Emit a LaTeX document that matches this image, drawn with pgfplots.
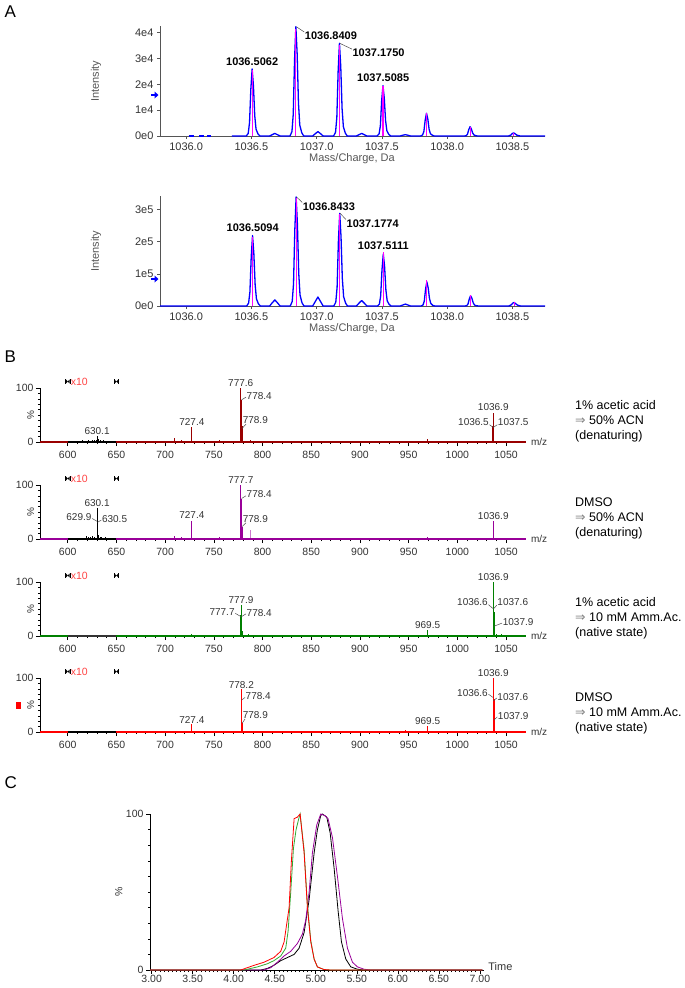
\documentclass[border=0pt]{standalone}
\usepackage{pgfplots}
\pgfplotsset{compat=1.18}
\usepackage{fontspec}
\setmainfont{Liberation Sans}
\newfontfamily\dejavu{DejaVu Sans}
\definecolor{txt}{HTML}{333333}
\definecolor{agray}{HTML}{555555}
\definecolor{bred}{HTML}{990000}
\definecolor{bpur}{HTML}{990099}
\definecolor{lpur}{HTML}{CC77CC}
\definecolor{bgrn}{HTML}{008000}
\definecolor{cgrn}{HTML}{33AA33}
\definecolor{xred}{HTML}{FF4444}
\definecolor{pblue}{HTML}{0000FF}
\definecolor{pmag}{HTML}{FF00FF}
\pgfplotsset{
  Astyle/.style={scale only axis, width=385pt, height=110pt,
    xmin=1035.8, xmax=1038.75, ymin=0,
    axis x line*=bottom, axis y line*=left,
    axis line style={agray,-,line width=0.7pt},
    tick style={agray,line width=0.6pt}, tick align=outside, major tick length=3pt,
    xtick={1036,1036.5,1037,1037.5,1038,1038.5},
    xticklabels={1036.0,1036.5,1037.0,1037.5,1038.0,1038.5},
    ticklabel style={font=\fontsize{11}{13}\selectfont, text=txt},
    clip=false},
  Bstyle/.style={scale only axis, width=486pt, height=54pt,
    xmin=571.5, xmax=1070.5, ymin=0, ymax=100,
    axis x line*=bottom, axis y line*=left,
    axis line style={black,-,line width=0.8pt},
    tick style={black,line width=0.6pt}, tick align=outside,
    major tick length=4pt, minor tick length=2pt,
    xtick={600,650,700,750,800,850,900,950,1000,1050},
    xticklabels={600,650,700,750,800,850,900,950,1000,1050},
    minor x tick num=4,
    ytick={0,100}, yticklabels={0,100}, minor ytick={10,20,30,40,50,60,70,80,90},
    ticklabel style={font=\fontsize{10.5}{12}\selectfont, text=txt},
    xticklabel style={yshift=-2pt}, yticklabel style={xshift=1pt},
    clip=false},
}
\tikzset{
  plab/.style={font=\bfseries\fontsize{11}{13}\selectfont, text=black, inner sep=0.5pt},
  blab/.style={font=\fontsize{10}{12}\selectfont, text=txt, inner sep=0.5pt},
  lead/.style={black!70, line width=0.5pt},
}
\newcommand{\xmark}[1]{%
  \fill[black] ([xshift=-2.6pt,yshift=-2.5pt]axis cs:#1,112) rectangle ([xshift=-1.9pt,yshift=2.5pt]axis cs:#1,112);
  \fill[black] ([xshift=1.9pt,yshift=-2.5pt]axis cs:#1,112) rectangle ([xshift=2.6pt,yshift=2.5pt]axis cs:#1,112);
  \fill[black] ([xshift=-1.9pt,yshift=2pt]axis cs:#1,112) -- ([xshift=1.9pt,yshift=-2pt]axis cs:#1,112) -- ([xshift=1.9pt,yshift=2pt]axis cs:#1,112) -- ([xshift=-1.9pt,yshift=-2pt]axis cs:#1,112) -- cycle;
}
\newcommand{\xten}{%
  \xmark{600}\xmark{650}
  \node[anchor=west, font=\fontsize{10.5}{12}\selectfont, text=xred, inner sep=0pt] at (axis cs:603,112) {x10};
  \node[rotate=90, font=\fontsize{10}{12}\selectfont, text=txt] at (axis cs:562,50) {\%};
  \node[anchor=west, font=\fontsize{10}{12}\selectfont, text=txt] at (axis cs:1072,0) {m/z};
}
\begin{document}
\begin{tikzpicture}
\useasboundingbox (0pt,0pt) rectangle (685pt,-988pt);
\node[anchor=west, font=\fontsize{17}{20}\selectfont] at (1pt,-12pt) {A};
\node[anchor=west, font=\fontsize{17}{20}\selectfont] at (1pt,-357pt) {B};
\node[anchor=west, font=\fontsize{17}{20}\selectfont] at (1pt,-783pt) {C};

% ---------------- Panel A top
\begin{axis}[Astyle, at={(160pt,-136pt)}, anchor=south west, ymax=4.25,
  ytick={0,1,2,3,4}, yticklabels={0e0,1e4,2e4,3e4,4e4}]
\addplot[pblue, line width=1.3pt] coordinates {(1036.02,0) (1036.06,0)};
\addplot[pblue, line width=1.3pt] coordinates {(1036.10,0) (1036.14,0)};
\addplot[pblue, line width=1.3pt] coordinates {(1036.16,0) (1036.19,0)};
\addplot[pblue, line width=1.3pt, line join=round] coordinates {
(1036.35,0) (1036.461,0) (1036.476,0.10) (1036.486,0.52) (1036.496,1.81) (1036.506,2.59) (1036.516,1.94) (1036.526,0.78) (1036.536,0.26) (1036.551,0.08) (1036.566,0)
(1036.64,0) (1036.66,0.05) (1036.68,0.10) (1036.70,0.05) (1036.72,0)
(1036.796,0) (1036.811,0.17) (1036.821,0.84) (1036.831,2.95) (1036.841,4.22) (1036.851,3.17) (1036.861,1.27) (1036.871,0.42) (1036.886,0.13) (1036.901,0)
(1036.97,0) (1036.99,0.09) (1037.01,0.17) (1037.03,0.09) (1037.05,0)
(1037.130,0) (1037.145,0.14) (1037.155,0.72) (1037.165,2.51) (1037.175,3.58) (1037.185,2.69) (1037.195,1.07) (1037.205,0.36) (1037.220,0.11) (1037.235,0)
(1037.305,0) (1037.325,0.05) (1037.345,0.10) (1037.365,0.05) (1037.385,0)
(1037.4635,0) (1037.4785,0.08) (1037.4885,0.39) (1037.4985,1.37) (1037.5085,1.95) (1037.5185,1.46) (1037.5285,0.59) (1037.5385,0.20) (1037.5535,0.06) (1037.5685,0)
(1037.64,0) (1037.66,0.03) (1037.68,0.05) (1037.70,0.03) (1037.72,0)
(1037.797,0) (1037.812,0.04) (1037.822,0.18) (1037.832,0.62) (1037.842,0.88) (1037.852,0.66) (1037.862,0.26) (1037.872,0.09) (1037.887,0.03) (1037.902,0)
(1038.131,0) (1038.146,0.01) (1038.156,0.07) (1038.166,0.25) (1038.176,0.36) (1038.186,0.27) (1038.196,0.11) (1038.206,0.04) (1038.221,0.01) (1038.236,0)
(1038.47,0) (1038.49,0.04) (1038.50,0.10) (1038.51,0.12) (1038.52,0.09) (1038.535,0.03) (1038.56,0) (1038.75,0)};
\addplot[pmag, line width=1.1pt, ycomb] coordinates {
(1036.506,2.55) (1036.841,4.15) (1037.175,3.52) (1037.5085,1.93) (1037.842,0.90) (1038.176,0.36) (1038.51,0.12)};
\node[plab, anchor=south] at (axis cs:1036.506,2.70) {1036.5062};
\draw[lead] (axis cs:1036.845,4.22) -- (axis cs:1036.905,4.02);
\node[plab, anchor=west] at (axis cs:1036.905,3.87) {1036.8409};
\draw[lead] (axis cs:1037.178,3.58) -- (axis cs:1037.27,3.36);
\node[plab, anchor=west] at (axis cs:1037.27,3.2) {1037.1750};
\node[plab, anchor=south] at (axis cs:1037.51,2.07) {1037.5085};
\end{axis}
\fill[pblue] (151pt,-93.8pt) rectangle (154.5pt,-96.2pt);
\fill[pblue] (154.5pt,-91.5pt) -- (158.5pt,-95pt) -- (154.5pt,-98.5pt) -- cycle;
\node[rotate=90, font=\fontsize{11}{13}\selectfont, text=agray] at (96pt,-81pt) {Intensity};
\node[font=\fontsize{11}{13}\selectfont, text=agray] at (352pt,-159pt) {Mass/Charge, Da};

% ---------------- Panel A bottom
\begin{axis}[Astyle, at={(160pt,-306pt)}, anchor=south west, ymax=3.42,
  ytick={0,1,2,3}, yticklabels={0e0,1e5,2e5,3e5}]
\addplot[pblue, line width=1.3pt, line join=round] coordinates {
(1035.8,0) (1036.464,0) (1036.479,0.09) (1036.489,0.44) (1036.499,1.53) (1036.509,2.19) (1036.519,1.64) (1036.529,0.66) (1036.539,0.22) (1036.554,0.07) (1036.569,0)
(1036.64,0) (1036.66,0.10) (1036.68,0.19) (1036.70,0.10) (1036.72,0)
(1036.798,0) (1036.813,0.14) (1036.823,0.68) (1036.833,2.37) (1036.843,3.39) (1036.853,2.54) (1036.863,1.02) (1036.873,0.34) (1036.888,0.10) (1036.903,0)
(1036.97,0) (1036.99,0.14) (1037.01,0.28) (1037.03,0.14) (1037.05,0)
(1037.132,0) (1037.147,0.12) (1037.157,0.58) (1037.167,2.02) (1037.177,2.88) (1037.187,2.16) (1037.197,0.86) (1037.207,0.29) (1037.222,0.09) (1037.237,0)
(1037.305,0) (1037.325,0.09) (1037.345,0.17) (1037.365,0.09) (1037.385,0)
(1037.466,0) (1037.481,0.06) (1037.491,0.32) (1037.501,1.13) (1037.511,1.62) (1037.521,1.22) (1037.531,0.49) (1037.541,0.16) (1037.556,0.05) (1037.571,0)
(1037.64,0) (1037.66,0.03) (1037.68,0.06) (1037.70,0.03) (1037.72,0)
(1037.800,0) (1037.815,0.03) (1037.825,0.15) (1037.835,0.53) (1037.845,0.75) (1037.855,0.56) (1037.865,0.23) (1037.875,0.08) (1037.890,0.02) (1037.905,0)
(1038.135,0) (1038.150,0.01) (1038.160,0.06) (1038.170,0.22) (1038.180,0.32) (1038.190,0.24) (1038.200,0.10) (1038.210,0.03) (1038.225,0.01) (1038.240,0)
(1038.473,0) (1038.493,0.04) (1038.503,0.09) (1038.513,0.11) (1038.523,0.08) (1038.538,0.03) (1038.563,0) (1038.75,0)};
\addplot[pmag, line width=1.1pt, ycomb] coordinates {
(1036.509,2.15) (1036.843,3.35) (1037.177,2.85) (1037.511,1.68) (1037.845,0.80) (1038.18,0.33) (1038.513,0.12)};
\node[plab, anchor=south] at (axis cs:1036.51,2.30) {1036.5094};
\draw[lead] (axis cs:1036.846,3.39) -- (axis cs:1036.89,3.22);
\node[plab, anchor=west] at (axis cs:1036.89,3.10) {1036.8433};
\draw[lead] (axis cs:1037.18,2.88) -- (axis cs:1037.225,2.69);
\node[plab, anchor=west] at (axis cs:1037.225,2.57) {1037.1774};
\node[plab, anchor=south] at (axis cs:1037.511,1.72) {1037.5111};
\end{axis}
\fill[pblue] (151pt,-277.8pt) rectangle (154.5pt,-280.2pt);
\fill[pblue] (154.5pt,-275.5pt) -- (158.5pt,-279pt) -- (154.5pt,-282.5pt) -- cycle;
\node[rotate=90, font=\fontsize{11}{13}\selectfont, text=agray] at (96pt,-251pt) {Intensity};
\node[font=\fontsize{11}{13}\selectfont, text=agray] at (352pt,-329pt) {Mass/Charge, Da};

% ---------------- Panel B1
\begin{axis}[Bstyle, at={(40pt,-442pt)}, anchor=south west]
\addplot[bred, ycomb, line width=0.8pt] coordinates {
(667,1) (692,2) (698,2.5) (709,8) (710,5) (717,3.5) (727.4,28) (745,2) (748,2) (752,2.5) (756,3) (760,2) (765,2) (770,1.5) (775,2)
(777.6,100) (778.4,78) (778.9,30) (779.5,8) (787.5,4) (930,1.5) (947,1) (969.5,5) (1000,1.5) (1020,1)
(1036.5,30) (1036.9,54) (1037.5,30) (1041,2) (1045,1.5) (1050,1.5)};
\addplot[bred, line width=1.3pt] coordinates {(571.5,0) (1070.5,0)};
\addplot[black, ycomb, line width=0.7pt] coordinates {
(601,1) (603,2) (605,1.5) (607,2) (609,2.5) (611,1.5) (613,2) (615,3) (617,2) (619,2.5) (621,3) (623,2) (625,3.5) (627,3) (629,4) (630.1,11) (631,5) (633,3) (635,2.5) (637,3) (639,2) (641,2.5) (643,2) (645,1.5) (647,2) (649,1)};
\addplot[black, line width=1.3pt] coordinates {(600,0) (650,0)};
\xten
\node[blab, anchor=south] at (axis cs:777.6,101) {777.6};
\draw[lead] (axis cs:778.4,78) -- (axis cs:783,83);
\node[blab, anchor=west] at (axis cs:783,86) {778.4};
\draw[lead] (axis cs:778.9,25) -- (axis cs:783,33);
\node[blab, anchor=south west] at (axis cs:779,33) {778.9};
\node[blab, anchor=south] at (axis cs:727.4,30) {727.4};
\node[blab, anchor=south] at (axis cs:630.1,12) {630.1};
\node[blab, anchor=south] at (axis cs:1036.9,56) {1036.9};
\draw[lead] (axis cs:1033,32) -- (axis cs:1036.9,27) -- (axis cs:1041,32);
\node[blab, anchor=east] at (axis cs:1033,37) {1036.5};
\node[blab, anchor=west] at (axis cs:1041,37) {1037.5};
\end{axis}

% ---------------- Panel B2
\begin{axis}[Bstyle, at={(40pt,-539pt)}, anchor=south west]
\addplot[bpur, ycomb, line width=0.8pt] coordinates {
(667,1) (692,2) (698,2) (709,6) (717,3) (727.4,34) (735,1) (745,2.5) (750,2) (756,3) (760,2) (765,1.5) (770,2) (775,1.5)
(777.7,100) (778.4,75) (778.9,23) (779.5,6) (795,1.5) (930,1) (969.5,3) (1000,1) (1036.9,33) (1037.3,12) (1045,1)};
\addplot[lpur, ycomb, line width=0.9pt] coordinates {(787.5,17)};
\addplot[bpur, line width=1.3pt] coordinates {(571.5,0) (1070.5,0)};
\addplot[black, ycomb, line width=0.7pt] coordinates {
(601,1.5) (604,2) (607,2) (610,2.5) (613,2) (616,2.5) (619,6) (621,3) (623,4) (625,5) (627,3) (629.9,30) (630.1,58) (630.5,33) (631,8) (633,4) (635,3) (637,2) (639,4) (641,2.5) (643,2) (645,2) (648,1.5)};
\addplot[black, line width=1.3pt] coordinates {(600,0) (650,0)};
\xten
\node[blab, anchor=south] at (axis cs:777.7,101) {777.7};
\draw[lead] (axis cs:778.4,75) -- (axis cs:783,80);
\node[blab, anchor=west] at (axis cs:783,83) {778.4};
\draw[lead] (axis cs:778.9,23) -- (axis cs:783,30);
\node[blab, anchor=south west] at (axis cs:779,30) {778.9};
\node[blab, anchor=south] at (axis cs:727.4,36) {727.4};
\node[blab, anchor=south] at (axis cs:630.1,59) {630.1};
\draw[lead] (axis cs:625,38) -- (axis cs:629.9,33);
\node[blab, anchor=east] at (axis cs:625,41) {629.9};
\draw[lead] (axis cs:630.5,31) -- (axis cs:634.5,35);
\node[blab, anchor=west] at (axis cs:634.5,37) {630.5};
\node[blab, anchor=south] at (axis cs:1036.9,35) {1036.9};
\end{axis}

% ---------------- Panel B3
\begin{axis}[Bstyle, at={(40pt,-636pt)}, anchor=south west]
\addplot[bgrn, ycomb, line width=0.8pt] coordinates {
(727.4,4) (777.7,38) (777.9,57) (778.4,38) (778.9,10) (781,2) (785,3) (790,1) (890,1) (920,2) (947,2.5) (969.5,11) (995,2) (1020,1)
(1036.6,44) (1036.9,100) (1037.6,44) (1037.9,20) (1040,3) (1045,4) (1050,2)};
\addplot[bgrn, line width=1.3pt] coordinates {(571.5,0) (1070.5,0)};
\addplot[black!80, line width=1.3pt] coordinates {(600,0) (650,0)};
\xten
\node[blab, anchor=south] at (axis cs:777.9,58) {777.9};
\draw[lead] (axis cs:772,42) -- (axis cs:777.7,36);
\node[blab, anchor=east] at (axis cs:772,45) {777.7};
\draw[lead] (axis cs:778.4,36) -- (axis cs:783,41);
\node[blab, anchor=west] at (axis cs:783,43) {778.4};
\node[blab, anchor=south] at (axis cs:969.5,12) {969.5};
\node[blab, anchor=south] at (axis cs:1036.9,101) {1036.9};
\draw[lead] (axis cs:1032,58) -- (axis cs:1036.6,51);
\node[blab, anchor=east] at (axis cs:1032,62) {1036.6};
\draw[lead] (axis cs:1037,50) -- (axis cs:1040.5,57);
\node[blab, anchor=west] at (axis cs:1040.5,62) {1037.6};
\draw[lead] (axis cs:1037.5,18) -- (axis cs:1046,24);
\node[blab, anchor=west] at (axis cs:1046,26) {1037.9};
\end{axis}

% ---------------- Panel B4
\begin{axis}[Bstyle, at={(40pt,-732pt)}, anchor=south west]
\addplot[red, ycomb, line width=0.8pt] coordinates {
(710,2) (717,2) (727.4,14) (745,1) (752,1.5) (757,1.5) (765,2) (778.2,79) (778.4,60) (778.9,16) (785,2) (790,1) (890,1) (920,2) (925,1.5) (930,1)
(947,3) (957,1.5) (969.5,12) (992,2) (1005,1) (1015,1.5) (1036.6,64) (1036.9,100) (1037.6,62) (1037.9,28) (1042,2) (1045,2)};
\addplot[red, line width=1.3pt] coordinates {(571.5,0) (1070.5,0)};
\addplot[black, line width=1.3pt] coordinates {(600,0) (650,0)};
\xten
\node[blab, anchor=south] at (axis cs:778.2,80) {778.2};
\draw[lead] (axis cs:778.4,59) -- (axis cs:782,64);
\node[blab, anchor=west] at (axis cs:782,67) {778.4};
\draw[lead] (axis cs:778.9,16) -- (axis cs:782,24);
\node[blab, anchor=south west] at (axis cs:779,24) {778.9};
\node[blab, anchor=south] at (axis cs:727.4,15) {727.4};
\node[blab, anchor=south] at (axis cs:969.5,13) {969.5};
\node[blab, anchor=south] at (axis cs:1036.9,101) {1036.9};
\draw[lead] (axis cs:1032,70) -- (axis cs:1036.6,64);
\node[blab, anchor=east] at (axis cs:1032,73) {1036.6};
\draw[lead] (axis cs:1037,58) -- (axis cs:1040.5,63);
\node[blab, anchor=west] at (axis cs:1040.5,65) {1037.6};
\draw[lead] (axis cs:1037.5,22) -- (axis cs:1041,28);
\node[blab, anchor=west] at (axis cs:1041,30) {1037.9};
\end{axis}
\fill[red] (16pt,-702pt) rectangle (21pt,-709pt);

% right-hand texts
\begin{scope}[every node/.style={anchor=base west, inner sep=0pt, font=\fontsize{12.5}{15}\selectfont, text=black}]
\node at (575pt,-409pt) {1\% acetic acid};
\node at (575pt,-424pt) {{\dejavu\color{gray}⇒} 50\% ACN};
\node at (575pt,-439pt) {(denaturing)};
\node at (575pt,-506pt) {DMSO};
\node at (575pt,-521pt) {{\dejavu\color{gray}⇒} 50\% ACN};
\node at (575pt,-536pt) {(denaturing)};
\node at (575pt,-606pt) {1\% acetic acid};
\node at (575pt,-621pt) {{\dejavu\color{gray}⇒} 10 mM Amm.Ac.};
\node at (575pt,-636pt) {(native state)};
\node at (575pt,-701pt) {DMSO};
\node at (575pt,-716pt) {{\dejavu\color{gray}⇒} 10 mM Amm.Ac.};
\node at (575pt,-731pt) {(native state)};
\end{scope}

% ---------------- Panel C
\begin{axis}[scale only axis, width=334pt, height=156pt, at={(150pt,-970pt)}, anchor=south west,
  xmin=2.98, xmax=7.05, ymin=0, ymax=100,
  axis x line*=bottom, axis y line*=left,
  axis line style={black,-,line width=0.8pt},
  tick style={black,line width=0.6pt}, tick align=outside,
  major tick length=4pt, minor tick length=2pt,
  xtick={3,3.5,4,4.5,5,5.5,6,6.5,7},
  xticklabels={3.00,3.50,4.00,4.50,5.00,5.50,6.00,6.50,7.00},
  minor x tick num=9,
  ytick={0,100}, yticklabels={0,100}, minor ytick={10,20,30,40,50,60,70,80,90},
  ticklabel style={font=\fontsize{10.5}{12}\selectfont, text=txt},
  xticklabel style={yshift=0.5pt, inner sep=1pt}, yticklabel style={xshift=1pt},
  clip=false]
\addplot[black, line width=0.8pt] coordinates {
(2.98,0) (4.33,0) (4.41,1) (4.49,3) (4.573,6) (4.655,8) (4.736,10) (4.797,14) (4.858,24) (4.919,45) (4.98,75) (5.02,90) (5.061,99) (5.081,100) (5.134,98) (5.175,88) (5.224,65) (5.272,38) (5.313,18) (5.366,7) (5.427,2) (5.508,0.5) (5.589,0) (7.03,0)};
\addplot[bpur, line width=0.8pt] coordinates {
(2.98,0) (4.37,0) (4.451,1.5) (4.533,5) (4.614,9) (4.695,12) (4.776,17) (4.837,23) (4.878,32) (4.919,50) (4.959,75) (5.012,93) (5.061,100) (5.11,99) (5.15,97) (5.203,85) (5.264,60) (5.325,33) (5.386,14) (5.447,5) (5.508,2) (5.589,0.5) (5.67,0) (7.03,0)};
\addplot[cgrn, line width=0.8pt] coordinates {
(2.98,0) (4.126,0) (4.289,2) (4.41,4) (4.49,6) (4.573,9) (4.634,14) (4.663,25) (4.695,50) (4.728,78) (4.76,90) (4.793,97) (4.809,100) (4.858,77) (4.898,42) (4.939,19) (4.98,7) (5.02,2) (5.10,0.3) (5.183,0) (7.03,0)};
\addplot[red, line width=0.8pt] coordinates {
(2.98,0) (4.085,0) (4.248,3) (4.37,5) (4.49,8) (4.573,12) (4.614,18) (4.675,40) (4.703,70) (4.736,97) (4.776,98) (4.809,100) (4.858,75) (4.898,40) (4.939,18) (4.98,7) (5.02,2) (5.10,0.3) (5.183,0) (7.03,0)};
\node[rotate=90, font=\fontsize{10.5}{12}\selectfont, text=txt] at (axis cs:2.60,50) {\%};
\node[anchor=west, font=\fontsize{11}{13}\selectfont, text=txt] at (axis cs:7.06,2) {Time};
\end{axis}
\end{tikzpicture}
\end{document}
